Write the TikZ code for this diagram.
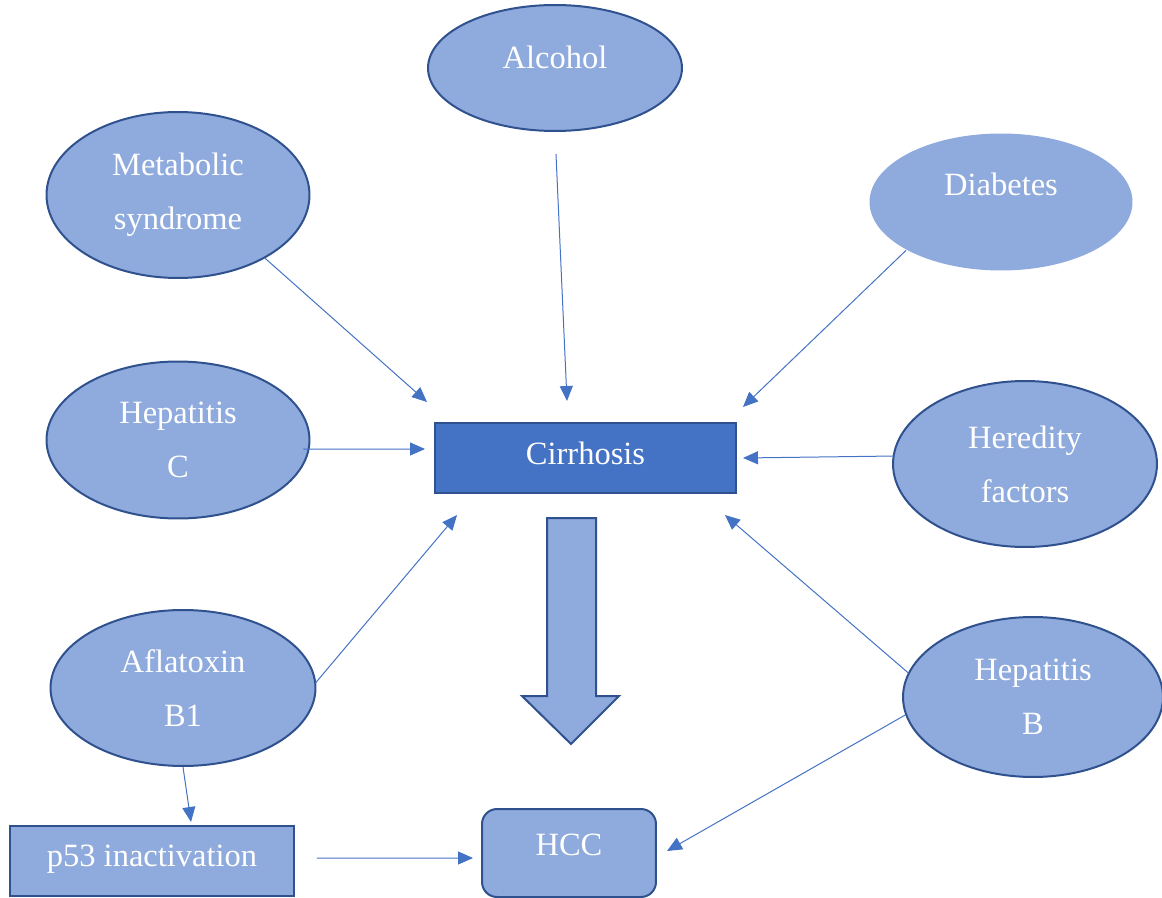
\documentclass[tikz,border=0pt]{standalone}
\usepackage{fontspec}
\setmainfont{Liberation Serif}
\usetikzlibrary{shapes.geometric,arrows.meta}

\definecolor{bubfill}{HTML}{8FAADC}
\definecolor{bubline}{HTML}{2F528F}
\definecolor{cirfill}{HTML}{4472C4}
\definecolor{linkcol}{HTML}{4472C4}

\begin{document}
\begin{tikzpicture}[x=0.02cm,y=-0.02cm,
	bub/.style={ellipse,fill=bubfill,draw=bubline,line width=0.04cm,inner sep=0pt,text=white,align=center,font=\fontsize{18.5}{30.7}\selectfont},
	box/.style={rectangle,fill=bubfill,draw=bubline,line width=0.04cm,inner sep=0pt,text=white,font=\fontsize{18.5}{22}\selectfont},
	link/.style={draw=linkcol,line width=0.02cm,-{Triangle[length=0.3cm,width=0.26cm]}}]
		\useasboundingbox (0,0) rectangle (1162,898);
		\node[bub,minimum width=5.08cm,minimum height=2.52cm,text depth=0.44cm] (alc) at (555,68) {Alcohol};
		\node[bub,minimum width=5.26cm,minimum height=3.32cm] (met) at (178,195) {Metabolic\\syndrome};
		\node[bub,draw=none,minimum width=5.26cm,minimum height=2.74cm,text depth=0.72cm] (dia) at (1001,202) {Diabetes};
		\node[bub,minimum width=5.26cm,minimum height=3.14cm] (hepc) at (178,440) {Hepatitis\\C};
		\node[bub,minimum width=5.28cm,minimum height=3.32cm] (her) at (1025,464) {Heredity\\factors};
		\node[bub,minimum width=5.3cm,minimum height=3.12cm] (afl) at (183,688) {Aflatoxin\\B1};
		\node[bub,minimum width=5.2cm,minimum height=3.2cm] (hepb) at (1033,697) {Hepatitis\\B};
		\node[box,fill=cirfill,minimum width=6.02cm,minimum height=1.4cm,text depth=0.2cm] (cirr) at (585.5,458) {Cirrhosis};
		\node[box,minimum width=5.68cm,minimum height=1.4cm,text depth=0.2cm] (p53) at (152,861) {p53 inactivation};
		\node[box,rounded corners=0.3cm,minimum width=3.48cm,minimum height=1.76cm,text depth=0.32cm] (hcc) at (569,853) {HCC};
		\draw[fill=bubfill,draw=bubline,line width=0.04cm] (547,518) -- (596,518) -- (596,696) -- (619,696) -- (571,744) -- (522,696) -- (547,696) -- cycle;
		\draw[link] (met.-36) -- ([xshift=-0.14cm,yshift=0.4cm]cirr.north west);
		\draw[link,shorten <=0.44cm] (alc.south) -- ([xshift=-0.37cm,yshift=0.42cm]cirr.north);
		\draw[link] (dia.207) -- ([xshift=0.12cm,yshift=0.3cm]cirr.north east);
		\draw[link] ([xshift=-0.14cm,yshift=-0.18cm]hepc.east) -- ([xshift=-0.18cm,yshift=0.18cm]cirr.west);
		\draw[link] ([xshift=0.06cm,yshift=0.16cm]her.west) -- ([xshift=0.12cm]cirr.east);
		\draw[link] ([xshift=-0.02cm,yshift=0.1cm]afl.east) -- ([xshift=0.46cm,yshift=-0.42cm]cirr.south west);
		\draw[link] (hepb.169) -- ([xshift=-0.24cm,yshift=-0.42cm]cirr.south east);
		\draw[link] (hepb.188) -- ([xshift=0.2cm,yshift=0.04cm]hcc.east);
		\draw[link] (afl.south) -- ([xshift=0.78cm,yshift=0.06cm]p53.north);
		\draw[link] ([xshift=0.44cm,yshift=0.06cm]p53.east) -- ([xshift=-0.16cm,yshift=-0.1cm]hcc.west);
\end{tikzpicture}
\end{document}
